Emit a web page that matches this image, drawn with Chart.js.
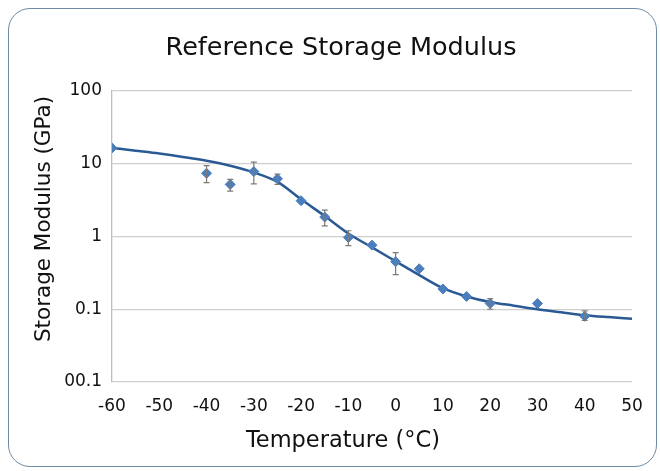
<!DOCTYPE html>
<html><head><meta charset="utf-8">
<script src="https://cdn.jsdelivr.net/npm/chart.js@4/dist/chart.umd.min.js"></script>
<style>
html,body{margin:0;padding:0;background:#fff;}
#wrap{position:relative;width:660px;height:471px;overflow:hidden;}
#frame{position:absolute;left:8px;top:8px;width:649px;height:459px;border:1.3px solid #6f8ba3;border-radius:22px;box-sizing:border-box;}
canvas{position:absolute;left:0;top:0;}
</style></head><body>
<div id="wrap"><div id="frame"></div><canvas id="c" width="660" height="471"></canvas></div>
<script>
const titleText = "Reference Storage Modulus";
const xTitle = "Temperature (°C)";
const yTitle = "Storage Modulus (GPa)";
const xTicks = [-60,-50,-40,-30,-20,-10,0,10,20,30,40,50];
const yTickValues = [0.01,0.1,1,10,100];
const yTickLabels = ["00.1","0.1","1","10","100"];
const temps = [-60,-40,-35,-30,-25,-20,-15,-10,-5,0,5,10,15,20,30,40];
const modulus = [16.5,7.4,5.2,7.8,6.2,3.1,1.85,0.97,0.76,0.45,0.36,0.19,0.15,0.12,0.12,0.08];
const errLow  = [null,5.5,4.2,5.3,5.2,null,1.4,0.75,null,0.3,null,null,null,0.1,null,0.07];
const errHigh = [null,9.4,6.1,10.5,7.2,null,2.3,1.2,null,0.6,null,null,null,0.14,null,0.095];
const fitTemps = [-60,-55,-50,-45,-40,-35,-30,-25,-20,-15,-10,-5,0,5,10,15,20,25,30,35,40,45,50];
const fitModulus = [16.5,15.1,13.8,12.4,11.0,9.4,7.6,5.62,3.24,1.91,1.10,0.708,0.457,0.295,0.195,0.15,0.126,0.112,0.1,0.091,0.083,0.078,0.074];

const FONT = "'DejaVu Sans', sans-serif";

const errorBars = {
  id:'errorBars',
  afterDatasetsDraw(chart){
    const ctx = chart.ctx, x = chart.scales.x, y = chart.scales.y;
    ctx.save();
    ctx.strokeStyle = '#7a7a7a';
    ctx.lineWidth = 1.2;
    temps.forEach((t,i)=>{
      if(errLow[i]==null) return;
      const px = x.getPixelForValue(t);
      const y1 = y.getPixelForValue(errLow[i]);
      const y2 = y.getPixelForValue(errHigh[i]);
      ctx.beginPath();
      ctx.moveTo(px,y1);ctx.lineTo(px,y2);
      ctx.moveTo(px-3,y1);ctx.lineTo(px+3,y1);
      ctx.moveTo(px-3,y2);ctx.lineTo(px+3,y2);
      ctx.stroke();
    });
    ctx.restore();
  }
};

const texts = {
  id:'texts',
  afterDraw(chart){
    const ctx = chart.ctx, a = chart.chartArea;
    ctx.save();
    ctx.fillStyle = '#111';
    ctx.textAlign = 'center';
    ctx.textBaseline = 'alphabetic';
    ctx.font = "25.5px " + FONT;
    ctx.fillText(titleText, 341, a.top - 36.5);
    ctx.font = "22.5px " + FONT;
    ctx.fillText(xTitle, 343, a.bottom + 65);
    ctx.translate(50, 219);
    ctx.rotate(-Math.PI/2);
    ctx.font = "21.5px " + FONT;
    ctx.fillText(yTitle, 0, 0);
    ctx.restore();
  }
};

new Chart(document.getElementById('c'),{
  type:'scatter',
  data:{datasets:[
    {label:'data',data:temps.map((t,i)=>({x:t,y:modulus[i]})),pointStyle:'rectRot',pointRadius:5,
     backgroundColor:'#4a7ebf',borderColor:'#4a7ebf',showLine:false,order:1},
    {label:'fit',data:fitTemps.map((t,i)=>({x:t,y:fitModulus[i]})),showLine:true,pointRadius:0,
     borderColor:'#2a5a94',borderWidth:2.5,cubicInterpolationMode:'monotone',order:2}
  ]},
  options:{
    responsive:false,animation:false,
    layout:{padding:{left:26,right:28,top:91,bottom:22}},
    plugins:{legend:{display:false},tooltip:{enabled:false},title:{display:false}},
    scales:{
      x:{type:'linear',min:-60,max:50,
        afterBuildTicks(s){s.ticks=xTicks.map(v=>({value:v}));},
        afterFit(s){s.height=67;},
        grid:{display:false,drawTicks:false},
        border:{display:false},
        ticks:{color:'#111',font:{family:FONT,size:17},padding:14,maxRotation:0}
      },
      y:{type:'logarithmic',min:0.01,max:100,
        afterBuildTicks(s){s.ticks=yTickValues.map(v=>({value:v}));},
        afterFit(s){s.width=86;},
        grid:{color:'#cfcfcf',lineWidth:1.3,drawTicks:false},
        border:{display:true,color:'#bdbdbd',width:1.3},
        ticks:{color:'#111',font:{family:FONT,size:17},padding:10,
          callback(v){const i=yTickValues.findIndex(t=>Math.abs(t-v)/t<1e-6);return i>=0?yTickLabels[i]:'';}}
      }
    }
  },
  plugins:[errorBars,texts]
});
</script>
</body></html>
